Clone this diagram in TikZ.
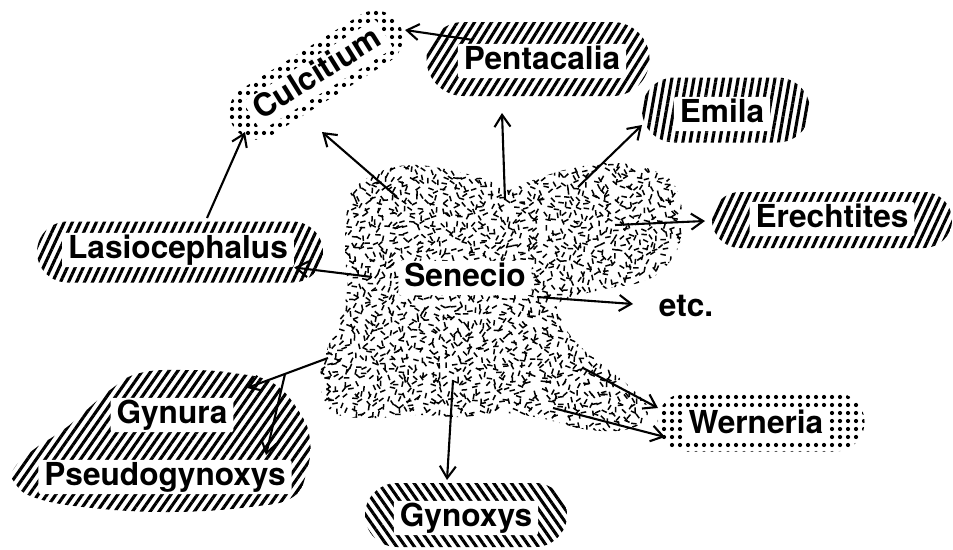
\documentclass[tikz,border=0pt]{standalone}
\usepackage{fontspec}
\setmainfont{TeX Gyre Heros}
\usetikzlibrary{arrows.meta,patterns.meta,shapes.misc}

\tikzset{
    pill/.style={rounded rectangle, inner sep=0pt},
    hatched/.style={pattern={Lines[angle=#1,distance=1.45mm,line width=0.62mm]}},
    speckled/.style={pattern={Dots[radius=0.42mm,distance=1.6mm]}},
    labelbox/.style={fill=white, rounded corners=0.5mm, inner xsep=1.2mm, inner ysep=1.5pt,
        text height=13pt, text depth=3.5pt, font=\fontsize{18}{20}\selectfont\bfseries},
    link/.style={->, line width=0.42mm}
}

\begin{document}
\begin{tikzpicture}[x=0.2mm, y=-0.2mm, >={Straight Barb[length=2.4mm,width=3.2mm]}]

\useasboundingbox (0,0) rectangle (953,549);

    % Senecio: blob of random dashes
    \begin{scope}
        \clip plot[smooth cycle, tension=0.7] coordinates {
            (353,190) (377,173) (410,165) (450,170) (487,180) (507,190) (533,180)
            (573,168) (617,163) (657,172) (677,190) (682,227) (673,257) (647,280)
            (600,290) (560,302) (563,323) (577,343) (600,363) (630,387) (648,410)
            (632,428) (590,430) (540,418) (500,413) (460,417) (417,415) (370,418)
            (333,412) (320,383) (327,350) (340,317) (347,290) (345,250) (347,210)};
        \pgfmathsetseed{17}
        \foreach \x in {312,318.5,...,690}
            \foreach \y in {156,162.5,...,440} {
                \pgfmathsetmacro{\ang}{180*rnd}
                \draw[line width=0.3mm] (\x+3*rand, \y+3*rand) -- ++(\ang:5.5);
            }
    \end{scope}

    % Gynura / Pseudogynoxys group
    \fill[hatched=55] plot[smooth cycle, tension=0.7] coordinates {
        (13,470) (33,450) (67,427) (110,390) (140,373) (187,370) (233,373)
        (273,383) (300,413) (310,440) (307,470) (293,497) (250,507) (167,512)
        (83,507) (33,497) (15,483)};

    % Pills round the labels
    \node[pill, speckled, rotate=32, minimum width=39mm, minimum height=11mm] (culc-bg) at (316,75) {};
    \node[pill, hatched=58, minimum width=44.6mm, minimum height=14.8mm] (penta-bg) at (538,59) {};
    \node[pill, hatched=80, minimum width=33.6mm, minimum height=13mm] (emila-bg) at (726,110) {};
    \node[pill, hatched=65, minimum width=48mm, minimum height=11.2mm] (erech-bg) at (832,220) {};
    \node[pill, speckled, minimum width=41.4mm, minimum height=11.8mm] (wern-bg) at (761,422) {};
    \node[pill, hatched=125, minimum width=40.4mm, minimum height=12.8mm] (gynox-bg) at (466,515) {};
    \node[pill, hatched=65, minimum width=57.2mm, minimum height=12.2mm] (lasio-bg) at (180,252) {};

    % Labels
    \node[labelbox] (senecio) at (465,278) {Senecio};
    \node[labelbox, rotate=32] (culc) at (318,75) {Culcitium};
    \node[labelbox] (penta) at (542,61) {Pentacalia};
    \node[labelbox] (emila) at (722,114) {Emila};
    \node[labelbox] (erech) at (832,219) {Erechtites};
    \node[labelbox] (wern) at (756,425) {Werneria};
    \node[labelbox] (gynox) at (466,518) {Gynoxys};
    \node[labelbox] (lasio) at (178,250) {Lasiocephalus};
    \node[labelbox] (gynura) at (172,415) {Gynura};
    \node[labelbox] (pseudo) at (165,477) {Pseudogynoxys};
    \node[font=\fontsize{18}{20}\selectfont\bfseries] (etc) at (686,306) {etc.};

    % Arrow starts inside the blob
    \coordinate (s-culc) at (397,197);
    \coordinate (s-penta) at (505,200);
    \coordinate (s-emila) at (578,187);
    \coordinate (s-erech) at (615,225);
    \coordinate (s-etc) at (537,297);
    \coordinate (s-wern-a) at (583,368);
    \coordinate (s-wern-b) at (553,408);
    \coordinate (s-gynox) at (453,380);
    \coordinate (s-gynura) at (328,358);
    \coordinate (s-lasio) at (372,277);
    \coordinate (branch) at (285,374);
    \coordinate (p-culc) at (473,40);
    \coordinate (l-culc) at (207,218);

    % Arrow tips
    \coordinate (t-culc-a) at (322,132);
    \coordinate (t-culc-b) at (245,132);
    \coordinate (t-culc-c) at (405,30);
    \coordinate (t-penta) at (502,113);
    \coordinate (t-emila) at (642,125);
    \coordinate (t-erech) at (705,221);
    \coordinate (t-etc) at (633,304);
    \coordinate (t-wern-a) at (658,408);
    \coordinate (t-wern-b) at (665,437);
    \coordinate (t-gynox) at (447,480);
    \coordinate (t-gynura) at (247,388);
    \coordinate (t-pseudo) at (266,455);

    % Arrows
    \draw[link] (s-culc) -- (t-culc-a);
    \draw[link] (l-culc) -- (t-culc-b);
    \draw[link] (p-culc) -- (t-culc-c);
    \draw[link] (s-penta) -- (t-penta);
    \draw[link] (s-emila) -- (t-emila);
    \draw[link] (s-erech) -- (t-erech);
    \draw[link] (s-etc) -- (t-etc);
    \draw[link] (s-wern-a) -- (t-wern-a);
    \draw[link] (s-wern-b) -- (t-wern-b);
    \draw[link] (s-gynox) -- (t-gynox);
    \draw[link] (s-gynura) -- (t-gynura);
    \draw[link] (branch) -- (t-pseudo);
    \draw[link] (s-lasio) -- (lasio.south east);

\end{tikzpicture}
\end{document}
